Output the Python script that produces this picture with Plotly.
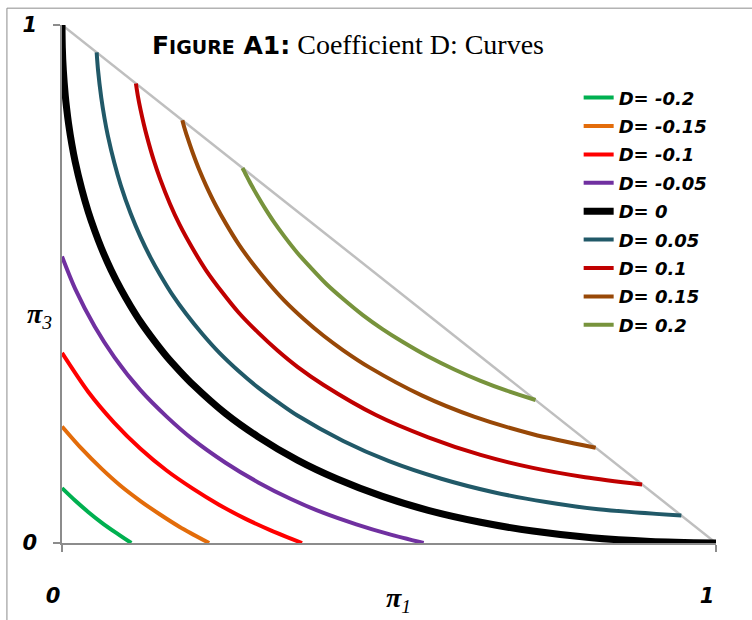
import plotly.graph_objects as go

# Iso-D curves in the (pi1, pi3) triangle; D = pi1*pi3 - (pi2/2)^2
labels = ["D= -0.2", "D= -0.15", "D= -0.1", "D= -0.05", "D= 0",
          "D= 0.05", "D= 0.1", "D= 0.15", "D= 0.2"]
colors = ["#00B050", "#E36C0A", "#FF0000", "#7030A0", "#000000",
          "#215968", "#C00000", "#984807", "#77933C"]

pi1_m020 = [0.0, 0.02, 0.04, 0.06, 0.08, 0.106]
pi3_m020 = [0.106, 0.082, 0.060, 0.040, 0.022, 0.0]

pi1_m015 = [0.0, 0.03, 0.06, 0.09, 0.12, 0.15, 0.18, 0.225]
pi3_m015 = [0.225, 0.182, 0.144, 0.110, 0.081, 0.055, 0.031, 0.0]

pi1_m010 = [0.0, 0.04, 0.08, 0.12, 0.16, 0.20, 0.24, 0.28, 0.32, 0.367]
pi3_m010 = [0.367, 0.292, 0.232, 0.182, 0.140, 0.105, 0.074, 0.047, 0.024, 0.0]

pi1_m005 = [0.0, 0.02, 0.05, 0.08, 0.12, 0.16, 0.20, 0.25, 0.30, 0.35, 0.40, 0.45, 0.50, 0.553]
pi3_m005 = [0.553, 0.491, 0.418, 0.359, 0.295, 0.244, 0.200, 0.155, 0.117, 0.085, 0.058, 0.036, 0.017, 0.0]

pi1_000 = [0.0, 0.0005, 0.002, 0.005, 0.007, 0.01, 0.015, 0.02, 0.03, 0.04, 0.05, 0.06,
           0.075, 0.09, 0.105, 0.12, 0.14, 0.16, 0.18, 0.20, 0.25, 0.30,
           0.36, 0.42, 0.49, 0.56, 0.64, 0.72, 0.81, 0.90, 1.0]
pi3_000 = [1.0, 0.956, 0.913, 0.864, 0.840, 0.810, 0.770, 0.737, 0.684, 0.640, 0.603, 0.570,
           0.527, 0.490, 0.457, 0.427, 0.392, 0.360, 0.332, 0.306, 0.250,
           0.205, 0.160, 0.124, 0.090, 0.063, 0.040, 0.023, 0.010, 0.003, 0.0]

pi1_p005 = [0.053, 0.055, 0.06, 0.065, 0.07, 0.08, 0.09, 0.105, 0.12, 0.135, 0.15, 0.17,
            0.19, 0.215, 0.24, 0.27, 0.30, 0.33, 0.36, 0.43, 0.50,
            0.58, 0.66, 0.74, 0.82, 0.947]
pi3_p005 = [0.947, 0.914, 0.860, 0.820, 0.787, 0.734, 0.690, 0.636, 0.591, 0.552, 0.518,
            0.477, 0.442, 0.403, 0.368, 0.332, 0.300, 0.272, 0.246, 0.197,
            0.158, 0.124, 0.098, 0.079, 0.065, 0.053]

pi1_p010 = [0.113, 0.116, 0.12, 0.125, 0.13, 0.14, 0.15, 0.165, 0.18, 0.20, 0.22, 0.245,
            0.27, 0.30, 0.33, 0.36, 0.40, 0.48, 0.56, 0.64, 0.72, 0.80, 0.887]
pi3_p010 = [0.887, 0.863, 0.837, 0.809, 0.784, 0.740, 0.703, 0.655, 0.614, 0.568, 0.527,
            0.484, 0.445, 0.406, 0.371, 0.340, 0.305, 0.247, 0.204, 0.170, 0.145, 0.127, 0.113]

pi1_p015 = [0.184, 0.187, 0.19, 0.195, 0.20, 0.21, 0.22, 0.235, 0.25, 0.27, 0.29, 0.315,
            0.34, 0.37, 0.40, 0.43, 0.47, 0.55, 0.63, 0.72, 0.816]
pi3_p015 = [0.816, 0.802, 0.790, 0.771, 0.753, 0.720, 0.691, 0.652, 0.618, 0.577, 0.542,
            0.503, 0.468, 0.432, 0.400, 0.372, 0.339, 0.285, 0.244, 0.210, 0.184]

pi1_p020 = [0.276, 0.2785, 0.28, 0.285, 0.29, 0.30, 0.31, 0.325, 0.34, 0.36, 0.38, 0.405,
            0.43, 0.46, 0.49, 0.52, 0.56, 0.60, 0.64, 0.68, 0.724]
pi3_p020 = [0.724, 0.718, 0.714, 0.702, 0.690, 0.668, 0.647, 0.618, 0.592, 0.560, 0.532,
            0.499, 0.471, 0.440, 0.413, 0.389, 0.360, 0.335, 0.313, 0.294, 0.276]

pi1_series = [pi1_m020, pi1_m015, pi1_m010, pi1_m005, pi1_000,
              pi1_p005, pi1_p010, pi1_p015, pi1_p020]
pi3_series = [pi3_m020, pi3_m015, pi3_m010, pi3_m005, pi3_000,
              pi3_p005, pi3_p010, pi3_p015, pi3_p020]
widths = [4, 4, 4, 4, 7, 4, 4, 4, 4]

# Triangle edge pi2 = 0
edge_pi1 = [0.0, 1.0]
edge_pi3 = [1.0, 0.0]

tick_vals = [0, 1]
tick_text = ["0", "1"]

fig = go.Figure()
fig.add_trace(go.Scatter(x=edge_pi1, y=edge_pi3, mode="lines",
                         line=dict(color="#BFBFBF", width=2.5),
                         showlegend=False, hoverinfo="skip", cliponaxis=False))

for i, (xs, ys) in enumerate(zip(pi1_series, pi3_series)):
    fig.add_trace(go.Scatter(x=xs, y=ys, mode="lines", name=labels[i],
                             legendgroup=f"g{i}",
                             line=dict(color=colors[i], width=widths[i],
                                       shape="spline", smoothing=0.8),
                             cliponaxis=False))

heavy = "DejaVu Sans"
tick_font = dict(family=heavy, size=21, color="black", weight="bold", style="italic")

fig.update_layout(
    width=752, height=620,
    margin=dict(l=62, r=36, t=25, b=72),
    paper_bgcolor="white", plot_bgcolor="white",
    showlegend=True,
    legend=dict(x=0.79, y=0.895, xanchor="left", yanchor="top",
                bgcolor="rgba(0,0,0,0)", tracegroupgap=2,
                font=dict(family=heavy, size=18, color="black",
                          weight="bold", style="italic")),
    xaxis=dict(range=[0, 1], tickvals=tick_vals, ticktext=tick_text,
               showgrid=False, zeroline=False, showline=True,
               linecolor="#8C8C8C", linewidth=1.5, layer="below traces",
               ticks="outside", ticklen=7, tickcolor="#8C8C8C", tickwidth=1.5,
               tickfont=tick_font, ticklabelstandoff=26, ticklabelshift=-9),
    yaxis=dict(range=[0, 1], tickvals=tick_vals, ticktext=tick_text,
               showgrid=False, zeroline=False, showline=True,
               linecolor="#8C8C8C", linewidth=1.5, layer="below traces",
               ticks="outside", ticklen=7, tickcolor="#8C8C8C", tickwidth=1.5,
               tickfont=tick_font, ticklabelstandoff=12),
)

# Chart frame (top and left edges)
fig.add_shape(type="line", xref="paper", yref="paper",
              x0=-0.0842, x1=1.1, y0=1.0325, y1=1.0325,
              line=dict(color="#8C8C8C", width=1))
fig.add_shape(type="line", xref="paper", yref="paper",
              x0=-0.0842, x1=-0.0842, y0=1.0325, y1=-0.2,
              line=dict(color="#8C8C8C", width=1))

# Title
fig.add_annotation(
    xref="paper", yref="paper", x=0.135, y=0.962, xanchor="left", yanchor="middle",
    showarrow=False,
    text=("<span style='font-family:DejaVu Sans;font-weight:bold;font-size:25px'>F</span>"
          "<span style='font-family:DejaVu Sans;font-weight:bold;font-size:19px'>IGURE</span>"
          "<span style='font-family:DejaVu Sans;font-weight:bold;font-size:25px'> A1:</span>"
          "<span style='font-family:Liberation Serif;font-size:28px'> Coefficient D: Curves</span>"),
    font=dict(color="black"))

# Axis titles
fig.add_annotation(xref="paper", yref="paper", x=0.515, y=-0.11,
                   xanchor="center", yanchor="middle", showarrow=False,
                   text="<i><b>π</b></i><sub><i>1</i></sub>",
                   font=dict(family="Liberation Serif", size=28, color="black"))
fig.add_annotation(xref="paper", yref="paper", x=-0.034, y=0.44,
                   xanchor="center", yanchor="middle", showarrow=False,
                   text="<i><b>π</b></i><sub><i>3</i></sub>",
                   font=dict(family="Liberation Serif", size=28, color="black"))

fig.write_html("out.html")
